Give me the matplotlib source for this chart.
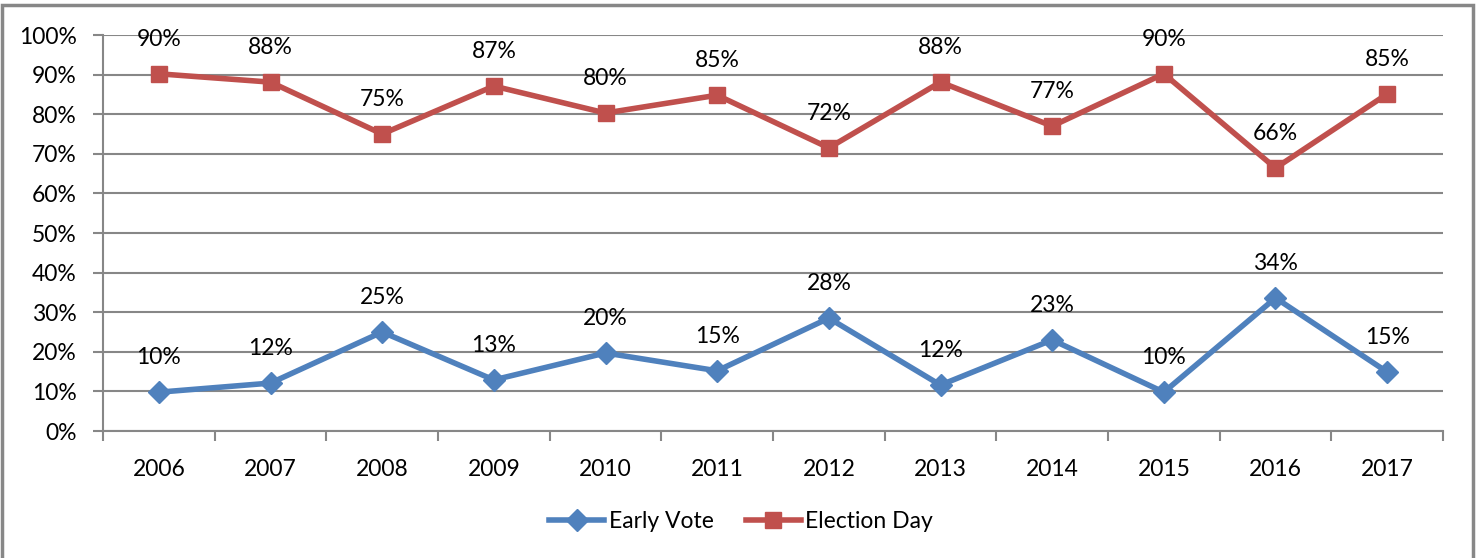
import matplotlib.pyplot as plt
from matplotlib.patches import Rectangle
import numpy as np

plt.rcParams['font.family'] = ['Lato', 'DejaVu Sans']

years = ['2006', '2007', '2008', '2009', '2010', '2011',
         '2012', '2013', '2014', '2015', '2016', '2017']
early_vote = [9.8, 12.1, 25.0, 12.9, 19.7, 15.2, 28.5, 11.6, 23.0, 9.8, 33.6, 14.9]
election_day = [90.2, 88.1, 75.0, 87.1, 80.3, 84.8, 71.5, 88.1, 77.0, 90.2, 66.4, 85.1]
early_labels = ['10%', '12%', '25%', '13%', '20%', '15%', '28%', '12%', '23%', '10%', '34%', '15%']
eday_labels = ['90%', '88%', '75%', '87%', '80%', '85%', '72%', '88%', '77%', '90%', '66%', '85%']

blue = '#4F81BD'
red = '#C0504D'
grey = '#878787'
fs = 16.5

W, H = 1476, 558
fig = plt.figure(figsize=(W / 100, H / 100), dpi=100)
ax = fig.add_axes([103 / W, (H - 431) / H, (1443 - 103) / W, (431 - 35) / H])

# outer chart frame
fig.patches.append(Rectangle((2 / W, -0.05), (1473 - 2) / W, (H - 5) / H + 0.05,
                             transform=fig.transFigure, fill=False,
                             edgecolor=grey, lw=2.5))

x = np.arange(len(years))
ax.plot(x, early_vote, color=blue, lw=4, marker='D', ms=11, label='Early Vote',
        solid_joinstyle='round', zorder=3)
ax.plot(x, election_day, color=red, lw=4, marker='s', ms=12, label='Election Day',
        solid_joinstyle='round', zorder=3)

for i in x:
    ax.annotate(early_labels[i], (i, early_vote[i]), xytext=(0, 25),
                textcoords='offset points', ha='center', va='center', fontsize=fs)
    ax.annotate(eday_labels[i], (i, election_day[i]), xytext=(0, 25),
                textcoords='offset points', ha='center', va='center', fontsize=fs)

ax.set_xlim(-0.5, len(years) - 0.5)
ax.set_ylim(0, 100)
ax.set_yticks(np.arange(0, 101, 10))
ax.set_yticklabels([f'{v}%' for v in range(0, 101, 10)], fontsize=fs)
ax.set_xticks(x)
ax.set_xticklabels(years, fontsize=fs)
ax.set_xticks(np.arange(-0.5, len(years)), minor=True)
ax.tick_params(axis='x', which='major', length=0, pad=20)
ax.tick_params(axis='x', which='minor', length=7, width=1.5, color=grey)
ax.tick_params(axis='y', length=7, width=1.5, color=grey, pad=12)

ax.grid(axis='y', color=grey, lw=1.5)
ax.set_axisbelow(True)
for s in ['top', 'right']:
    ax.spines[s].set_visible(False)
for s in ['left', 'bottom']:
    ax.spines[s].set_color(grey)
    ax.spines[s].set_linewidth(1.5)

fig.legend(loc='center', bbox_to_anchor=(741 / W, 1 - 522 / H), ncol=2,
           frameon=False, fontsize=fs, handlelength=2.4, handletextpad=0.2,
           columnspacing=1.4)

fig.savefig('out.png', dpi=100)
